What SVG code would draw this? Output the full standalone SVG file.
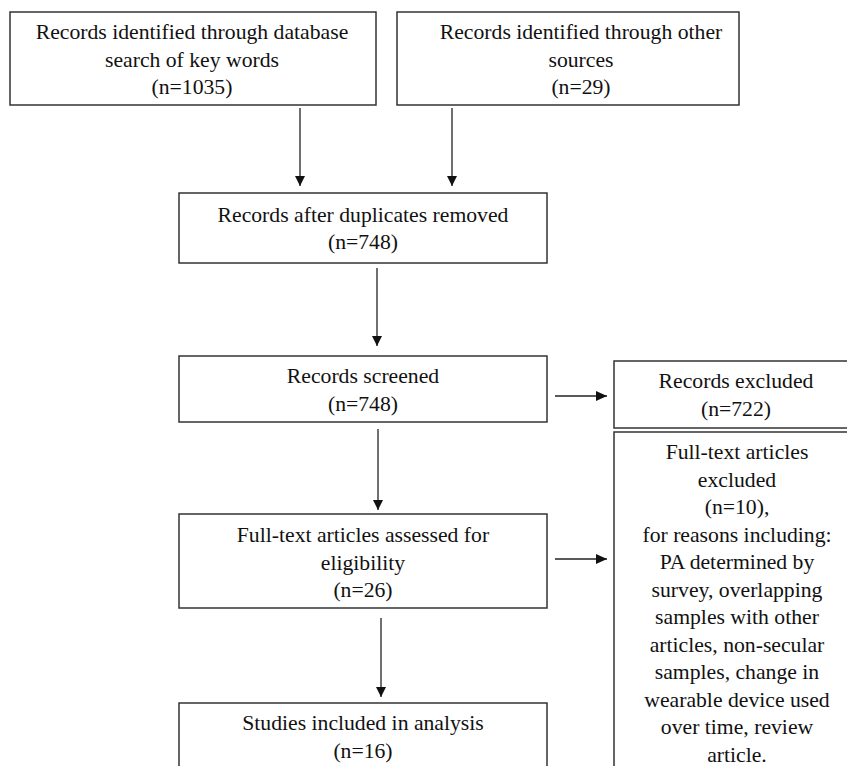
<svg xmlns="http://www.w3.org/2000/svg" width="847" height="766" viewBox="0 0 847 766">
<defs>
<style>
.box{fill:#fff;stroke:#333;stroke-width:1.5}
.t{font-family:'Liberation Serif','Times New Roman',Tinos,serif;font-size:21.7px;fill:#111;text-anchor:middle}
.c{stroke:#222;stroke-width:1.3;fill:none}
</style>
<marker id="ah" markerWidth="10" markerHeight="12" refX="10" refY="5" orient="auto" markerUnits="userSpaceOnUse" viewBox="0 0 10 10">
<path d="M0,0 L10,5 L0,10 Z" fill="#111"/>
</marker>
<marker id="ah2" markerWidth="12" markerHeight="10" refX="11" refY="5" orient="auto" markerUnits="userSpaceOnUse" viewBox="0 0 11 10">
<path d="M0,0 L11,5 L0,10 Z" fill="#111"/>
</marker>
</defs>
<rect width="847" height="766" fill="#fff"/>
<g id="connectors">
<line class="c" x1="300" y1="108" x2="300" y2="186" marker-end="url(#ah)"/>
<line class="c" x1="452" y1="108" x2="452" y2="186" marker-end="url(#ah)"/>
<line class="c" x1="377" y1="268" x2="377" y2="346" marker-end="url(#ah)"/>
<line class="c" x1="378" y1="429" x2="378" y2="510" marker-end="url(#ah)"/>
<line class="c" x1="381" y1="618" x2="381" y2="697" marker-end="url(#ah)"/>
<line class="c" x1="555" y1="396" x2="607" y2="396" marker-end="url(#ah2)"/>
<line class="c" x1="555" y1="559" x2="607" y2="559" marker-end="url(#ah2)"/>
</g>
<g id="n1">
<rect class="box" x="10" y="12" width="366" height="93"/>
<text class="t" x="192" y="39">Records identified through database</text>
<text class="t" x="192" y="66.5">search of key words</text>
<text class="t" x="192" y="94">(n=1035)</text>
</g>
<g id="n2">
<rect class="box" x="397" y="12" width="342" height="93"/>
<text class="t" x="581" y="39">Records identified through other</text>
<text class="t" x="581" y="66.5">sources</text>
<text class="t" x="581" y="94">(n=29)</text>
</g>
<g id="n3">
<rect class="box" x="179" y="193" width="368" height="70"/>
<text class="t" x="363" y="221.5">Records after duplicates removed</text>
<text class="t" x="363" y="249">(n=748)</text>
</g>
<g id="n4">
<rect class="box" x="179" y="356" width="368" height="66"/>
<text class="t" x="363" y="383">Records screened</text>
<text class="t" x="363" y="410.5">(n=748)</text>
</g>
<g id="n5">
<rect class="box" x="614" y="361" width="250" height="67"/>
<text class="t" x="736" y="388">Records excluded</text>
<text class="t" x="736" y="415.5">(n=722)</text>
</g>
<g id="n6">
<rect class="box" x="614" y="432" width="250" height="360"/>
<text class="t" x="737" y="459">Full-text articles</text>
<text class="t" x="737" y="486.5">excluded</text>
<text class="t" x="737" y="514">(n=10),</text>
<text class="t" x="737" y="541.5">for reasons including:</text>
<text class="t" x="737" y="569">PA determined by</text>
<text class="t" x="737" y="596.5">survey, overlapping</text>
<text class="t" x="737" y="624">samples with other</text>
<text class="t" x="737" y="651.5">articles, non-secular</text>
<text class="t" x="737" y="679">samples, change in</text>
<text class="t" x="737" y="706.5">wearable device used</text>
<text class="t" x="737" y="734">over time, review</text>
<text class="t" x="737" y="761.5">article.</text>
</g>
<g id="n7">
<rect class="box" x="179" y="514" width="368" height="94"/>
<text class="t" x="363" y="542">Full-text articles assessed for</text>
<text class="t" x="363" y="569.5">eligibility</text>
<text class="t" x="363" y="597">(n=26)</text>
</g>
<g id="n8">
<rect class="box" x="179" y="703" width="368" height="90"/>
<text class="t" x="363" y="730">Studies included in analysis</text>
<text class="t" x="363" y="757.5">(n=16)</text>
</g>
</svg>
